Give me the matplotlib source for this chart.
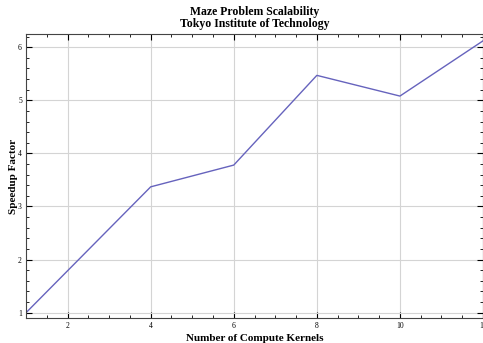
import matplotlib
matplotlib.use("Agg")
import matplotlib.pyplot as plt
from matplotlib.ticker import MultipleLocator

# donnees
kernels = [1, 4, 6, 8, 10, 12]
speedup = [1.0, 3.37, 3.78, 5.47, 5.08, 6.12]

plt.rcParams['font.family'] = ['Liberation Serif', 'DejaVu Serif']

fig = plt.figure(figsize=(4.83, 3.43), dpi=100)
ax = fig.add_axes([0.054, 0.073, 0.946, 0.828])

ax.plot(kernels, speedup, color='#6663bd', linewidth=1.0)

ax.set_xlim(1, 12)
ax.set_ylim(0.9, 6.25)
ax.xaxis.set_major_locator(MultipleLocator(2))
ax.xaxis.set_minor_locator(MultipleLocator(0.5))
ax.yaxis.set_major_locator(MultipleLocator(1))
ax.yaxis.set_minor_locator(MultipleLocator(0.2))

ax.grid(True, which='major', color='#d4d4d4', linewidth=0.8)
ax.tick_params(which='both', direction='in', top=True, right=True, labelsize=5.5, pad=3)
ax.tick_params(which='major', length=4, width=0.8)
ax.tick_params(which='minor', length=2, width=0.6)
for s in ax.spines.values():
    s.set_linewidth(0.8)
    s.set_color('#444444')

ax.set_xlabel("Number of Compute Kernels", fontsize=8, fontweight='bold', labelpad=3)
ax.set_ylabel("Speedup Factor", fontsize=8, fontweight='bold', labelpad=0)
ax.set_title("Maze Problem Scalability\nTokyo Institute of Technology", fontsize=8.5,
             fontweight='bold', linespacing=1.05, pad=5)

fig.savefig("out.png", dpi=100)
